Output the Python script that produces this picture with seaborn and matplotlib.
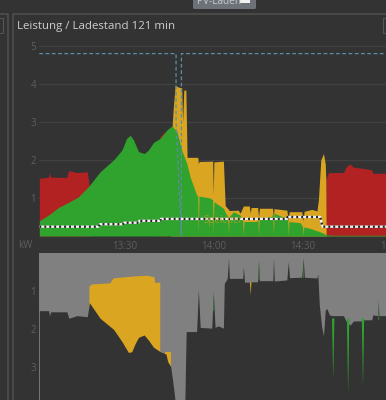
import numpy as np
import matplotlib
matplotlib.use("Agg")
import matplotlib.pyplot as plt
import pandas as pd
import seaborn as sns
from matplotlib.patches import Rectangle, FancyBboxPatch

# ---- data: minutes after 13:00, kW ----
red_t = [1.4, 3.9, 4.5, 4.8, 5.2, 10.6, 11.2, 14, 17.5, 18.2, 18.4, 41.5, 41.8, 43.5, 44, 97.5, 97.6, 98.5,
         103.5, 104.6, 105.7, 106.9, 110.2, 113, 113.4, 117.8]
red_v = [1.52, 1.54, 1.55, 1.67, 1.55, 1.54, 1.72, 1.67, 1.69, 1.30, 0, 0, 2.6, 2.75, 0, 0, 1.47, 1.67,
         1.67, 1.84, 1.89, 1.81, 1.78, 1.74, 1.65, 1.65]
yellow_t = [45.5, 46, 46.3, 47, 48, 49.2, 49.5, 49.9, 50.6, 51, 54.6, 54.8, 55.0, 59.6, 59.8, 60.0, 63.2, 63.8,
            64.9, 65.2, 68.2, 68.8, 69.9, 71.9, 72.2, 72.5, 74.7, 75, 75.3, 79.7, 80, 80.2, 84.5, 85, 85.3,
            89.5, 90, 90.3, 92.9, 94.6, 95.1, 95.9, 96.8, 97.4, 97.6, 97.7]
yellow_v = [0, 2.9, 3.3, 3.97, 3.92, 3.9, 3.0, 3.84, 3.84, 2.07, 2.07, 1.9, 1.96, 1.97, 1.1, 1.95, 1.97, 0.8,
            0.7, 0.67, 0.68, 0.6, 0.79, 0.79, 0.6, 0.75, 0.75, 0.5, 0.73, 0.73, 0.5, 0.72, 0.68, 0.4, 0.64,
            0.64, 0.4, 0.65, 0.7, 0.66, 0.95, 2.0, 2.17, 1.9, 1.47, 0]
green_t = [1.4, 5, 7.8, 10.6, 14.5, 17.9, 21.8, 26.3, 29.1, 30.7, 31.9, 33, 34.7, 36.6, 38, 39.7, 42, 44.2, 45.9,
           47.6, 49.2, 50.9, 52, 54.2, 54.6, 54.8, 55, 58.7, 59.6, 59.8, 60, 63.2, 64.3, 64.7, 64.9, 65.1, 66.6,
           68.8, 69.7, 69.9, 70.1, 74.4, 74.8, 75, 75.2, 79.4, 79.8, 80, 80.2, 84.5, 84.8, 85, 85.2, 89, 89.8,
           90, 90.2, 92.3, 95.7, 97.9, 100, 117.8]
green_v = [0.40, 0.58, 0.75, 0.86, 1.03, 1.30, 1.69, 2.0, 2.26, 2.57, 2.65, 2.53, 2.22, 2.17, 2.26, 2.46, 2.57,
           2.79, 2.90, 2.75, 2.26, 1.91, 1.56, 1.08, 1.06, 0.05, 1.05, 1.0, 0.95, 0.05, 0.9, 0.73, 0.55, 0.5, 0.05,
           0.5, 0.64, 0.55, 0.4, 0.02, 0.38, 0.38, 0.45, 0.02, 0.45, 0.52, 0.6, 0.02, 0.6, 0.46, 0.4, 0.02, 0.38,
           0.35, 0.25, 0.02, 0.24, 0.2, 0.11, 0.03, 0.02, 0.02]
soc_t = [1.4, 21.2, 21.8, 29.4, 29.9, 34.7, 35, 42, 42.2, 84.5, 84.7, 95.7, 96.5, 117.8]
soc_v = [0.245, 0.245, 0.31, 0.31, 0.35, 0.35, 0.40, 0.40, 0.45, 0.45, 0.50, 0.50, 0.245, 0.245]
limit_t = [1.4, 47.3, 47.3, 49.1, 49.1, 117.8]
limit_v = [4.8, 4.8, 3.0, 0.0, 4.8, 4.8]

load_t = [1.4, 3.9, 4.5, 4.8, 5.2, 10.6, 11.3, 14, 17.5, 18.2, 21.8, 26.3, 29.1, 31.3, 32.4, 33.6, 34.7, 36.6, 38,
          39.7, 42, 43.9, 44.5, 45.5, 46.4, 47, 47.3, 50, 50.7, 54.2, 54.8, 55.4, 59.3, 59.8, 60.4, 61.5, 63.2,
          63.5, 64.5, 64.9, 65.2, 69.7, 69.9, 70.3, 71.9, 72.7, 74.7, 75, 75.3, 79.8, 80, 80.3, 84.5, 85, 85.4,
          89.5, 90, 90.4, 94.6, 94.9, 95.4, 96.2, 96.8, 97.4, 97.9, 98.8, 99.6, 103.5, 104.6, 105.7, 106.9, 109.7,
          110.2, 113, 113.4, 115, 115.2, 115.4, 117.8]
load_v = [1.51, 1.51, 1.51, 1.65, 1.54, 1.54, 1.71, 1.64, 1.67, 1.30, 1.71, 2.0, 2.32, 2.61, 2.59, 2.37, 2.21, 2.15,
          2.28, 2.47, 2.59, 2.65, 2.85, 2.98, 3.5, 3.9, 5, 5, 2.06, 2.06, 0.96, 1.95, 1.97, 1.0, 1.95, 1.91, 1.97,
          0.79, 0.66, 0.13, 0.66, 0.66, 0.35, 0.76, 0.76, 0.75, 0.75, 0.18, 0.72, 0.72, 0.13, 0.73, 0.70, 0.22, 0.64,
          0.63, 0.13, 0.63, 0.65, 0.54, 1.36, 1.93, 2.18, 1.5, 1.45, 1.62, 1.64, 1.64, 1.82, 1.89, 1.78, 1.78,
          1.75, 1.75, 1.62, 1.64, 1.24, 1.64, 1.64]
batt_top_t = [18.2, 19, 25.2, 26.3, 33, 37.5, 40, 40.4, 41.7, 42, 42.1, 43.5, 45.6]
batt_top_v = [0.88, 0.82, 0.79, 0.66, 0.61, 0.59, 0.63, 0.79, 0.77, 0.77, np.nan, 2.6, 2.6]
pv_spike_t = [99.9, 104.9, 109.9]
pv_spike_v = [3.3, 3.7, 3.5]
pv_up_t = [59.8, 75, 90, 115.2]
pv_up_v = [1.0, 0.18, 0.13, 1.24]

tick_pos = [30, 60, 90, 120]
tick_lab = ["13:30", "14:00", "14:30", "15:00"]
top_y = [1, 2, 3, 4, 5]
bot_y = [1, 2, 3]

BG, GRID, TXT = "#333333", "#414141", "#5e5e5e"
RED, GREEN, GOLD, GRAY = "#b22222", "#30a22e", "#daa520", "#808080"

sns.set_style("dark")
plt.rcParams["font.family"] = ["Open Sans", "DejaVu Sans"]

W, H = 386, 400
fig = plt.figure(figsize=(W / 100, H / 100), dpi=100, facecolor=BG)


def px_axes(x0, y0, x1, y1):
    return fig.add_axes([x0 / W, 1 - y1 / H, (x1 - x0) / W, (y1 - y0) / H], facecolor=BG)


XL = (1.28, 122.5)

# ---- upper chart ----
ax = px_axes(39, 40, 400, 236)
ax.set_xlim(*XL)
ax.set_ylim(0, 196 / 38)
ax.fill_between(red_t, 0, red_v, color=RED, lw=0)
ax.fill_between(yellow_t, 0, yellow_v, color=GOLD, lw=0)
ax.fill_between(green_t, 0, green_v, color=GREEN, lw=0)
ax.text(56.5, 0.40, "Speicher", color="#b9a12a", fontsize=7, alpha=0.8, ha="left", va="center")
sns.lineplot(x=limit_t, y=limit_v, ax=ax, color="#5c8ea8", lw=0.9, ls=(0, (3, 2)), estimator=None, sort=False)
sns.lineplot(x=soc_t, y=soc_v, ax=ax, color="#f0f0f0", lw=1.7, estimator=None, sort=False)
sns.lineplot(x=soc_t, y=soc_v, ax=ax, color="#222222", lw=1.7, ls=(0, (0.8, 1.3)), estimator=None, sort=False)
ax.set_xticks(tick_pos, tick_lab)
ax.set_yticks(top_y, [str(v) for v in top_y])
ax.grid(True, axis="y", color=GRID, lw=1.0)
ax.grid(False, axis="x")
for l in ax.get_ygridlines():
    l.set_zorder(5)
ax.tick_params(axis="x", direction="in", length=3.2, width=0.8, color=BG, labelcolor=TXT, labelsize=7, pad=3.5)
ax.tick_params(axis="y", length=0, labelcolor=TXT, labelsize=7, pad=2)
for s in ax.spines.values():
    s.set_visible(False)

# ---- lower chart ----
bx = px_axes(39, 253.3, 400, 400)
bx.set_xlim(*XL)
bx.set_ylim(146.7 / 38, 0)
xe = [XL[0] + 0.1, 117.8 + 5]
bx.fill_between(xe, 0, 6, color=GRAY, lw=0)
bx.fill_between(batt_top_t, batt_top_v, 6, color=GOLD, lw=0)
bx.fill_between(load_t, load_v, 6, color=BG, lw=0)
for t, v in zip(pv_spike_t, pv_spike_v):
    bx.fill_between([t - 0.4, t, t + 0.4], [1.7, 1.7, 1.7], [1.7, v, 1.7], color=GREEN, lw=0)
for t, v in zip(pv_up_t, pv_up_v):
    bx.fill_between([t - 0.15, t, t + 0.15], [v + 0.5] * 3, [v + 0.5, v, v + 0.5], color="#3f8a3f", lw=0)
bx.fill_between([71.95, 72.2, 72.45], [0.75] * 3, [0.75, 1.1, 0.75], color=GOLD, lw=0)
bx.set_yticks(bot_y, [str(v) for v in bot_y])
bx.set_xticks([])
bx.grid(True, axis="y", color="#4b4b4b", lw=1.0)
for l in bx.get_ygridlines():
    l.set_zorder(5)
bx.tick_params(axis="y", length=0, labelcolor=TXT, labelsize=7, pad=2)
for s in bx.spines.values():
    s.set_visible(False)

# ---- surrounding panel furniture, in pixel coordinates ----
ov = fig.add_axes([0, 0, 1, 1], facecolor="none", zorder=-1)
ov.set_xlim(0, W)
ov.set_ylim(H, 0)
ov.axis("off")
ov.plot([13, 13, 386], [400, 14, 14], color="#505050", lw=1.1)
ov.plot([0, 8, 8], [14, 14, 400], color="#505050", lw=1.1)
ov.plot([0, 3, 3, 0], [18, 18, 33, 33], color="#555555", lw=0.8)
ov.plot([386, 383, 383, 386], [18, 18, 33, 33], color="#555555", lw=0.8)
ov.add_patch(FancyBboxPatch((193, -6), 63, 15, boxstyle="round,pad=0,rounding_size=1.5", fc="#6c7278", ec="none"))
ov.text(197, 1.5, "PV-Laden", color="#c9cbcd", fontsize=7.2, va="center", ha="left")
ov.add_patch(Rectangle((240, -4), 10, 7, fc="#f2f2f2", ec="none"))

fig.text(17 / W, 1 - 26.5 / H, "Leistung / Ladestand 121 min", color="#cdcdcd", fontsize=8.25, va="center", ha="left")
fig.text(25 / W, 1 - 245.5 / H, "kW", color=TXT, fontsize=7, va="center", ha="center")

fig.savefig("out.png", dpi=100, facecolor=BG)
